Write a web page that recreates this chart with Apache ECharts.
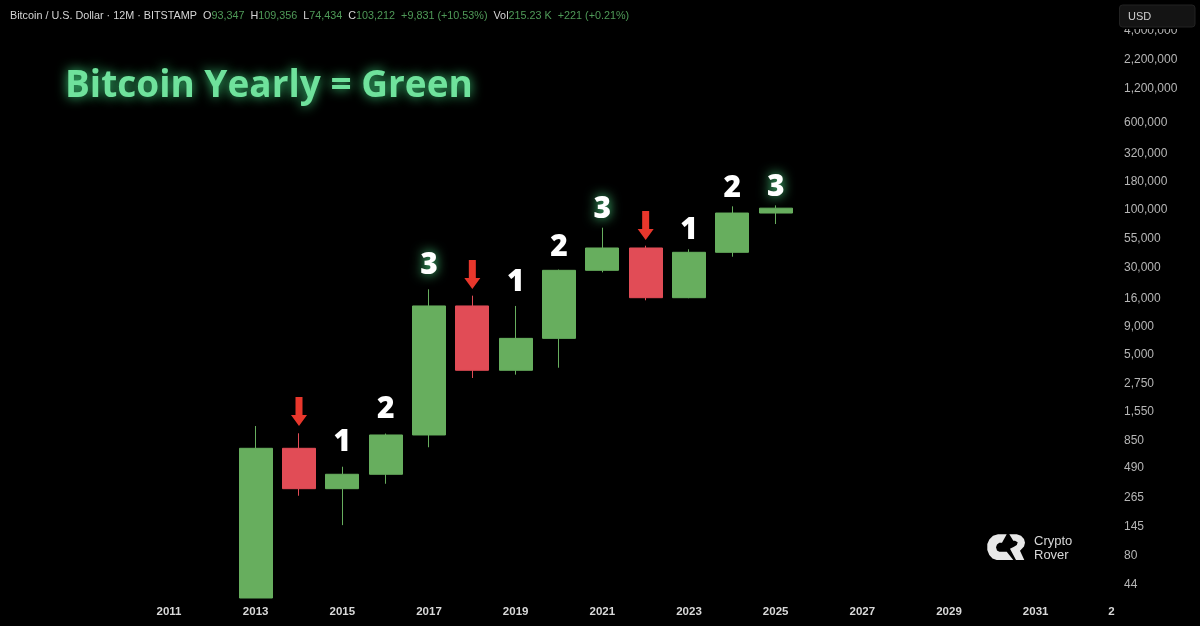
<!DOCTYPE html>
<html>
<head>
<meta charset="utf-8">
<style>html,body{margin:0;background:#000}#chart{width:1200px;height:626px}</style>
<script src="https://cdn.jsdelivr.net/npm/echarts@6/dist/echarts.min.js"></script>
</head>
<body>
<div id="chart"></div>
<script>
const years = ['2011','2012','2013','2014','2015','2016','2017','2018','2019','2020','2021','2022','2023','2024','2025','2026','2027','2028','2029','2030','2031','2032','2033'];
const candleYears = ['2013','2014','2015','2016','2017','2018','2019','2020','2021','2022','2023','2024','2025'];
// 2013 runs off the bottom of the pane, so only its visible part is kept
const opens  = [33.4, 731, 318, 428, 962, 13750, 3650, 7050, 28660, 45420, 16300, 41550, 93347];
const closes = [731, 318, 428, 962, 13750, 3650, 7050, 28660, 45420, 16300, 41550, 93347, 103212];
const lows   = [33.4, 275, 150, 352, 747, 3114, 3337, 3848, 27500, 15450, 16130, 37950, 74434];
const highs  = [1157, 996, 500, 991, 19380, 17000, 13750, 29100, 69000, 47600, 44200, 107200, 109356];
const priceTicks = [44, 80, 145, 265, 490, 850, 1550, 2750, 5000, 9000, 16000, 30000, 55000, 100000, 180000, 320000, 600000, 1200000, 2200000, 4000000];

const arrowYears = ['2014','2018','2022'];
const arrowPrices = [1560, 26300, 72200];
const countYears = ['2015','2016','2019','2020','2023','2024'];
const countLabels = ['1','2','1','2','1','2'];
const countPrices = [832, 1644, 22500, 46300, 65800, 156400];
const peakYears = ['2017','2021','2025'];
const peakLabels = ['3','3','3'];
const peakPrices = [32000, 101450, 159700];

const chart = echarts.init(document.getElementById('chart'));
const up = '#67ae5e', down = '#e14c56';
const txt = '#d6d6d6', grn = '#4f9a58';
const headerFont = 'Liberation Sans';

const candleData = years.map(y => {
  const i = candleYears.indexOf(y);
  return i < 0 ? '-' : [opens[i], closes[i], lows[i], highs[i]];
});
const numberLabel = (extra) => Object.assign({
  show: true, position: 'inside', color: '#fff', fontFamily: 'Open Sans', fontWeight: 800, fontSize: 30,
  textBorderWidth: 0, textBorderColor: 'transparent', opacity: 1,
  formatter: p => p.data[2]
}, extra);
const hidden = { color: 'rgba(0,0,0,0)', opacity: 1 };

// logo outline
const logoC = [[1006.7,534.3],[998,534.3],[993,535.8],[989.3,539.5],[987.3,544],[987.3,550],[989.3,555],[992.5,558.5],[996.7,560],[1013.3,560],[1006.7,551.7],[999.3,551.7],[997,550.5],[996,547.3],[997,544.5],[999.3,542.8],[1002,542.8]];
const logoR = [[1009.3,534.3],[1016.7,534.3],[1021,535.8],[1024,539],[1025,542.7],[1024,546.5],[1020,550.7],[1024.3,560],[1016,560],[1010,548.7],[1014,546.7],[1016.8,545],[1017.7,542.3],[1015,540.7],[1013.3,540.7]];

chart.setOption({
  backgroundColor: '#000',
  animation: false,
  title: [{
    text: 'Bitcoin Yearly = Green', left: 60, top: 63,
    textStyle: { color: '#6fe29c', fontFamily: 'Open Sans', fontWeight: 700, fontSize: 37,
      textShadowColor: '#3fd67f', textShadowBlur: 12 }
  }, {
    left: 5, top: 6,
    text: 'Bitcoin / U.S. Dollar · 12M · BITSTAMP  O{g|93,347}  H{g|109,356}  L{g|74,434}  C{g|103,212}  {g|+9,831 (+10.53%)}  Vol{g|215.23 K}  {g|+221 (+0.21%)}',
    textStyle: { color: txt, fontFamily: headerFont, fontSize: 10.8, fontWeight: 400,
      rich: { g: { color: grn, fontFamily: headerFont, fontSize: 10.8 } } }
  }],
  grid: { left: 147.33, top: 0, width: 996.67, height: 598 },
  xAxis: {
    type: 'category', data: years, boundaryGap: true,
    axisLine: { show: false }, axisTick: { show: false }, splitLine: { show: false },
    axisLabel: {
      interval: 1, margin: 8, color: '#d8d8d8', fontFamily: 'Liberation Sans', fontWeight: 700, fontSize: 11.5,
      formatter: v => v === '2033' ? '{cut|2}' : v,
      rich: { cut: { padding: [0, 22, 0, 0], color: '#d8d8d8', fontFamily: 'Liberation Sans', fontWeight: 700, fontSize: 11.5 } }
    }
  },
  yAxis: {
    type: 'log', logBase: 10, position: 'right', min: 33.4, max: 7540000, offset: -20,
    axisLine: { show: false }, axisTick: { show: false }, splitLine: { show: false }, minorTick: { show: false },
    axisLabel: {
      customValues: priceTicks, align: 'left', margin: 0, color: '#b6b6b6',
      fontFamily: 'Liberation Sans', fontSize: 12,
      formatter: v => Math.round(v).toLocaleString('en-US')
    }
  },
  series: [{
    type: 'candlestick', data: candleData, barWidth: 33.5,
    itemStyle: { color: up, color0: down, borderColor: up, borderColor0: down, borderWidth: 1 }
  }, {
    type: 'scatter', data: arrowYears.map((y, i) => [y, arrowPrices[i]]), silent: true,
    symbol: 'path://M4.5 0H11.5V18H16L8 29L0 18H4.5Z', symbolSize: [16, 29],
    itemStyle: { color: '#e8372c', opacity: 1 }
  }, {
    type: 'scatter', data: countYears.map((y, i) => [y, countPrices[i], countLabels[i]]), silent: true,
    symbolSize: 1, itemStyle: hidden, label: numberLabel({})
  }, {
    type: 'scatter', data: peakYears.map((y, i) => [y, peakPrices[i], peakLabels[i]]), silent: true,
    symbolSize: 1, itemStyle: hidden,
    label: numberLabel({ textShadowColor: '#4fe08a', textShadowBlur: 12 })
  }],
  graphic: [
    { type: 'rect', z: 100, shape: { x: 1112, y: 0, width: 88, height: 29 }, style: { fill: '#000' } },
    { type: 'rect', z: 101, shape: { x: 1119.5, y: 5, width: 75.5, height: 22, r: 3 }, style: { fill: '#141414', stroke: '#222', lineWidth: 1 } },
    { type: 'text', z: 102, x: 1128, y: 11, style: { text: 'USD', fill: '#d0d0d0', font: '11px "Liberation Sans"' } },
    { type: 'polygon', z: 102, shape: { points: logoC }, style: { fill: '#e8e8e8' } },
    { type: 'polygon', z: 102, shape: { points: logoR }, style: { fill: '#e8e8e8' } },
    { type: 'text', z: 102, x: 1034, y: 535, style: { text: 'Crypto', fill: '#d8d8d8', font: '13px "Liberation Sans"' } },
    { type: 'text', z: 102, x: 1034, y: 549, style: { text: 'Rover', fill: '#d8d8d8', font: '13px "Liberation Sans"' } }
  ]
});
</script>
</body>
</html>
